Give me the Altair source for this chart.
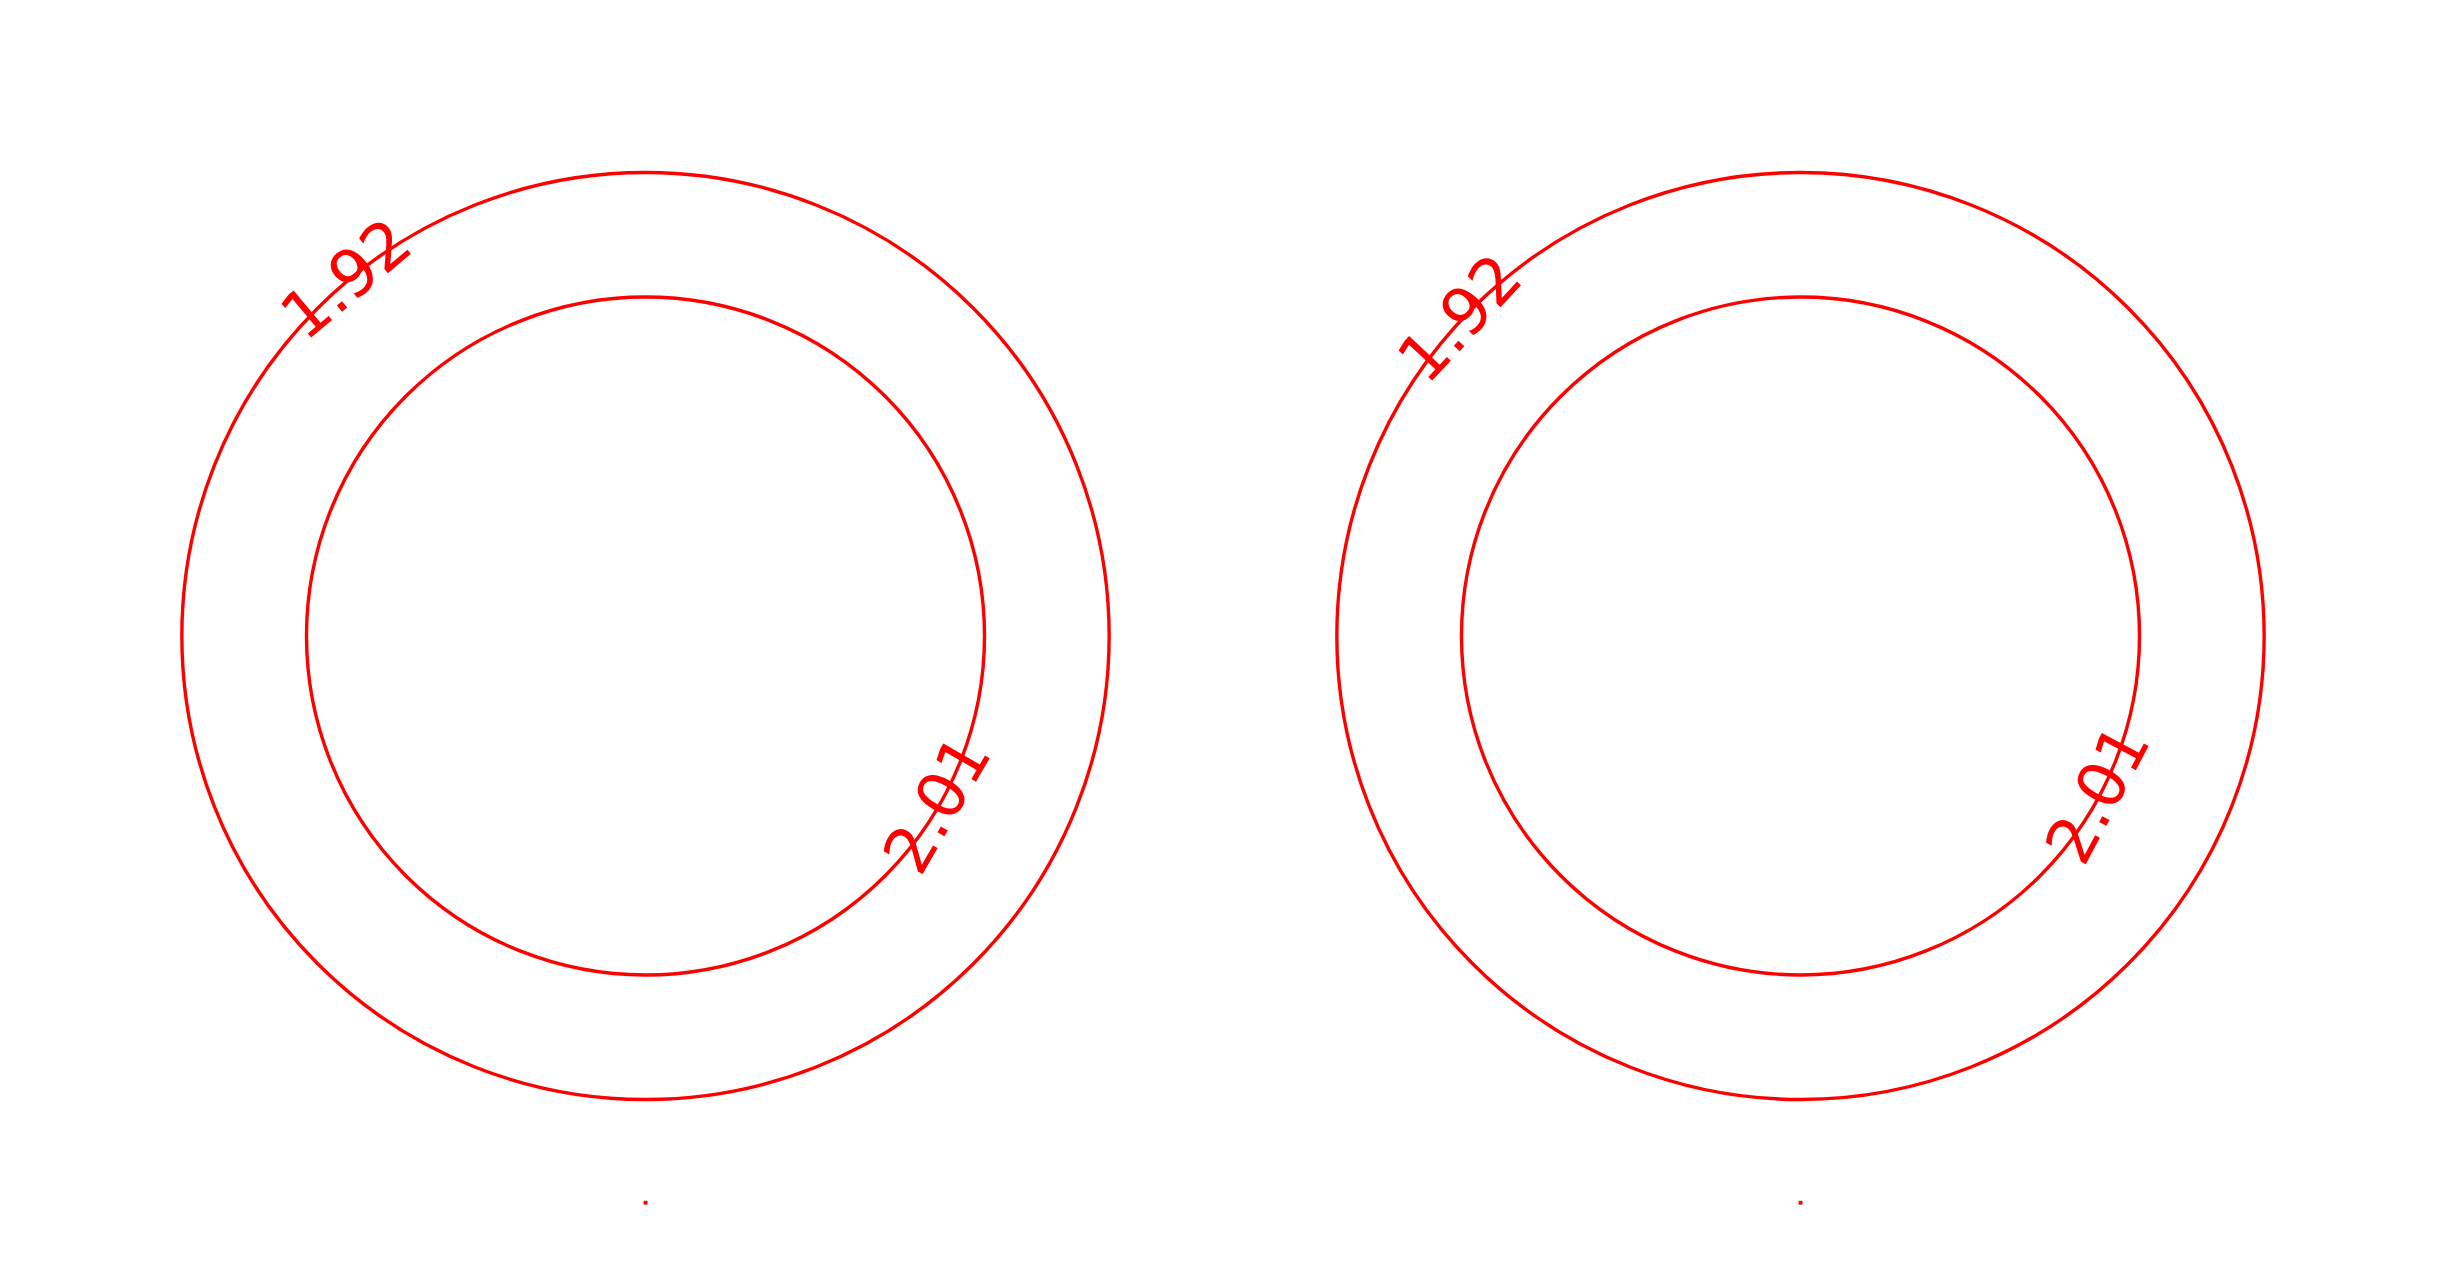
import altair as alt
import pandas as pd

# ---- data ----
panels = ["left", "right"]
ring_value = [1, 1]
outer_labels = ["1.92", "1.92"]
outer_theta = [320, 313]      # degrees clockwise from top
outer_angle = [320, 313]      # text rotation, degrees
inner_labels = ["2.01", "2.01"]
inner_theta = [120, 118]
inner_angle = [300, 298]
dot_theta = [180, 180]
dot_label = ["■", "■"]

RED = "#ff0000"
W, H = 1155, 1200
R_OUT, R_IN = 463.5, 339
R_DOT = 566
FONT = "DejaVu Sans"
theta_scale = alt.Scale(domain=[0, 360], range=[0, 6.283185307179586])


def panel(i):
    ring = alt.Chart(pd.DataFrame({"v": [ring_value[i]]})).mark_arc(
        filled=False, stroke=RED, strokeWidth=3.4,
        outerRadius=R_OUT, innerRadius=R_IN
    ).encode(theta=alt.Theta("v:Q", stack=True))

    outer = alt.Chart(pd.DataFrame({
        "label": [outer_labels[i]], "t": [outer_theta[i]], "a": [outer_angle[i]]
    })).mark_text(
        font=FONT, fontSize=65, color=RED, align="center", baseline="middle",
        radius=R_OUT
    ).encode(
        theta=alt.Theta("t:Q", scale=theta_scale, stack=None),
        angle=alt.Angle("a:Q", scale=None),
        text="label:N",
    )

    inner = alt.Chart(pd.DataFrame({
        "label": [inner_labels[i]], "t": [inner_theta[i]], "a": [inner_angle[i]]
    })).mark_text(
        font=FONT, fontSize=65, color=RED, align="center", baseline="middle",
        radius=R_IN
    ).encode(
        theta=alt.Theta("t:Q", scale=theta_scale, stack=None),
        angle=alt.Angle("a:Q", scale=None),
        text="label:N",
    )

    dot = alt.Chart(pd.DataFrame({
        "label": [dot_label[i]], "t": [dot_theta[i]]
    })).mark_text(
        font=FONT, fontSize=5, color=RED, align="center", baseline="middle",
        radius=R_DOT
    ).encode(
        theta=alt.Theta("t:Q", scale=theta_scale, stack=None),
        text="label:N",
    )

    return alt.layer(ring, outer, inner, dot).resolve_scale(
        theta="independent"
    ).properties(width=W, height=H)


chart = alt.hconcat(*[panel(i) for i in range(len(panels))], spacing=0).properties(
    padding={"left": 60, "top": 28, "right": 5, "bottom": 5}
).configure_view(strokeWidth=0)

chart.save("out.html", embed_options={"renderer": "svg", "actions": False})
